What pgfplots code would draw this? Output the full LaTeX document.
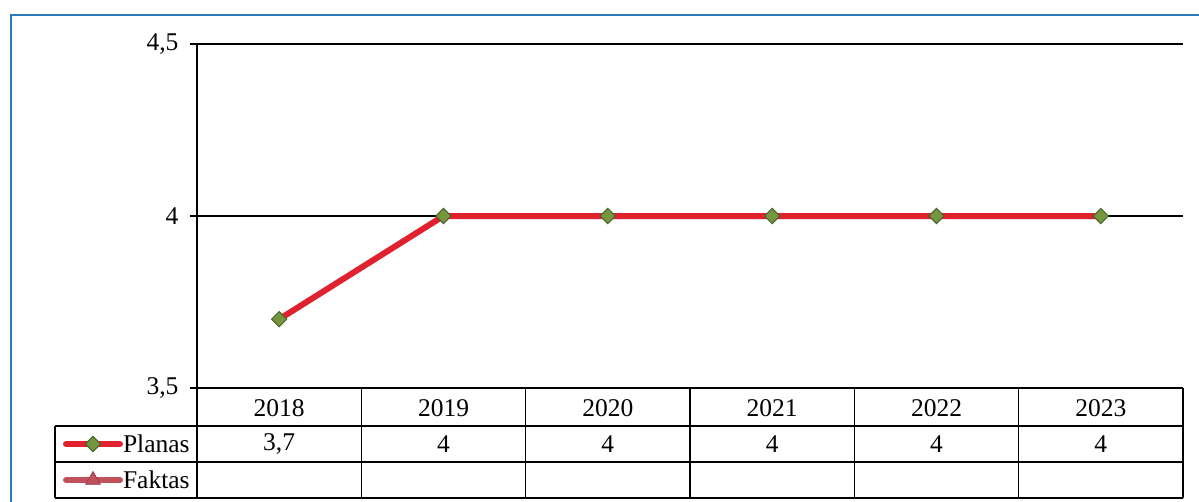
\documentclass[border=0pt]{standalone}
\usepackage{fontspec}
\setmainfont{Liberation Serif}
\usepackage{pgfplots}
\pgfplotsset{compat=1.18}
\definecolor{planas}{RGB}{224,34,46}
\definecolor{mkgreen}{RGB}{115,150,62}
\definecolor{mkdark}{RGB}{72,98,40}
\definecolor{faktas}{RGB}{192,80,94}
\definecolor{frameblue}{RGB}{44,122,186}
\begin{document}
\begin{tikzpicture}[font=\fontsize{25.5bp}{29bp}\selectfont]
\useasboundingbox (0,0) rectangle (1199bp,-502bp);
\draw[color=frameblue, line width=1.8bp] (11bp,-15bp) rectangle (1230bp,-530bp);
\begin{axis}[
  at={(197bp,-388bp)}, anchor=south west,
  scale only axis, width=986bp, height=344bp,
  xmin=-0.5, xmax=5.5, ymin=3.5, ymax=4.5,
  clip=false,
  axis lines*=left,
  axis line style={line width=1.6bp, black},
  ytick={3.5,4,4.5},
  ymajorgrids, major grid style={line width=1.6bp, black},
  tick align=outside, major tick length=7bp,
  tick style={line width=1.6bp, black},
  xtick={0,1,2,3,4,5}, xticklabels={2018,2019,2020,2021,2022,2023},
  xtick style={draw=none},
  xticklabel style={anchor=center, yshift=-13bp},
  yticklabel style={xshift=-8bp},
  /pgf/number format/use comma,
  /pgf/number format/assume math mode=true,
  legend cell align=left,
  legend style={at={(-0.1359,-0.1105)}, anchor=north west, draw=none, fill=none,
    inner sep=0pt, outer sep=0pt, row sep=0pt, column sep=0bp,
    nodes={inner sep=0pt, minimum height=36bp, anchor=west}},
  legend image code/.code={\draw[mark repeat=2, mark phase=2, line cap=round, #1] plot coordinates {(0bp,0bp) (27bp,0bp) (54bp,0bp)};},
]
\addplot[color=planas, line width=6bp, mark=square*, mark size=5.4bp,
  mark options={rotate=45, fill=mkgreen, draw=mkdark, line width=1bp}]
  coordinates {(0,3.7) (1,4) (2,4) (3,4) (4,4) (5,4)};
\addlegendentry{Planas}
\addlegendimage{color=faktas, line width=6bp, mark=triangle*, mark size=8.5bp,
  mark options={fill=faktas, draw=faktas!80!black, line width=0.8bp}}
\addlegendentry{Faktas}
\addplot[draw=none, forget plot, nodes near coords, point meta=explicit,
  every node near coord/.append style={anchor=center}]
  coordinates {(0,3.3372) [3.7] (1,3.3372) [4] (2,3.3372) [4] (3,3.3372) [4] (4,3.3372) [4] (5,3.3372) [4]};
\end{axis}
\begin{scope}[x=1bp, y=-1bp, line width=1.6bp]
  \draw (55,426) -- (1183,426);
  \draw (55,462) -- (1183,462);
  \draw (55,498) -- (1183,498);
  \draw (55,426) -- (55,498);
  \foreach \k in {0,...,6} {
    \draw ({197+164.333*\k},388) -- ({197+164.333*\k},498);
  }
\end{scope}
\end{tikzpicture}
\end{document}
